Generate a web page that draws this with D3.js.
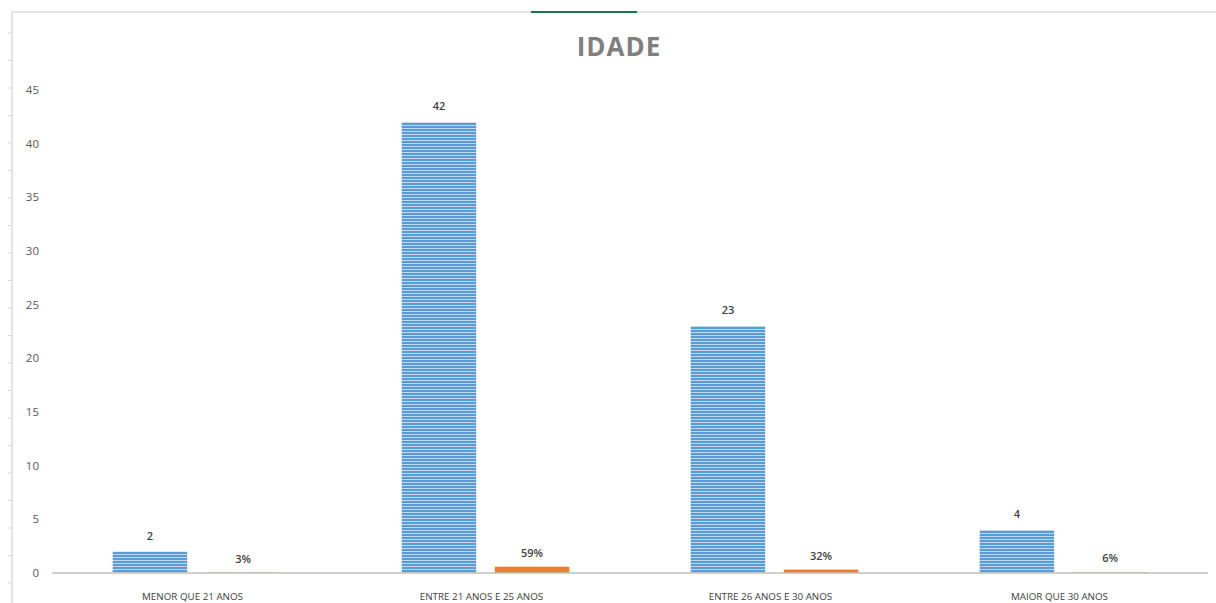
<!DOCTYPE html>
<html>
<head>
<meta charset="utf-8">
<script src="https://cdn.jsdelivr.net/npm/d3@7.9.0/dist/d3.min.js"></script>
<style>
  body { margin: 0; background: #fff; }
  svg { display: block; font-family: "Open Sans", sans-serif; }
</style>
</head>
<body>
<svg id="chart" width="1216" height="603"></svg>
<script>
const categories = ['MENOR QUE 21 ANOS', 'ENTRE 21 ANOS E 25 ANOS', 'ENTRE 26 ANOS E 30 ANOS', 'MAIOR QUE 30 ANOS'];
const counts = [2, 42, 23, 4];
const shares = [0.03, 0.59, 0.32, 0.06];
const yTicks = [0, 5, 10, 15, 20, 25, 30, 35, 40, 45];

const svg = d3.select('#chart');

// sheet frame lines
svg.append('line').attr('x1', 12).attr('x2', 1216).attr('y1', 12).attr('y2', 12)
  .attr('stroke', '#c8c8c8').attr('stroke-width', 1);
svg.append('line').attr('x1', 531).attr('x2', 637).attr('y1', 12).attr('y2', 12)
  .attr('stroke', '#1e7145').attr('stroke-width', 2);
svg.append('line').attr('x1', 12).attr('x2', 12).attr('y1', 12).attr('y2', 603)
  .attr('stroke', '#c8c8c8').attr('stroke-width', 1);
d3.range(33, 603, 27.5).forEach(y => {
  svg.append('line').attr('x1', 8).attr('x2', 12).attr('y1', y).attr('y2', y)
    .attr('stroke', '#d8d8d8');
});

// striped fill for the blue bars
const pat = svg.append('defs').append('pattern')
  .attr('id', 'stripes').attr('patternUnits', 'userSpaceOnUse')
  .attr('width', 8).attr('height', 3);
pat.append('rect').attr('width', 8).attr('height', 3).attr('fill', '#5b9bd5');
pat.append('rect').attr('y', 2).attr('width', 8).attr('height', 1).attr('fill', '#bcd8f2');

const x0 = d3.scaleBand().domain(categories).range([52, 1208])
  .paddingInner(0.42).paddingOuter(0.21);
const x1 = d3.scaleBand().domain(['count', 'share']).range([0, x0.bandwidth()])
  .paddingInner(0.2);
const y = d3.scaleLinear().domain([0, 45]).range([573, 90]);

// title
svg.append('text').attr('x', 619).attr('y', 56).attr('text-anchor', 'middle')
  .attr('font-size', 26).attr('font-weight', 'bold').attr('letter-spacing', 1)
  .attr('fill', '#7f7f7f').text('IDADE');

// y axis labels
svg.append('g').selectAll('text').data(yTicks).join('text')
  .attr('x', 39).attr('y', d => y(d)).attr('dy', '0.35em')
  .attr('text-anchor', 'end').attr('font-size', 11.5).attr('fill', '#595959')
  .text(d => d);

const groups = svg.append('g').selectAll('g').data(categories).join('g')
  .attr('transform', d => `translate(${x0(d)},0)`);

groups.append('rect')
  .attr('x', x1('count')).attr('width', x1.bandwidth())
  .attr('y', (d, i) => y(counts[i])).attr('height', (d, i) => y(0) - y(counts[i]))
  .attr('fill', 'url(#stripes)');

groups.append('rect')
  .attr('x', x1('share')).attr('width', x1.bandwidth())
  .attr('y', (d, i) => y(shares[i])).attr('height', (d, i) => y(0) - y(shares[i]))
  .attr('fill', '#ed7d31');

groups.append('text')
  .attr('x', x1('count') + x1.bandwidth() / 2)
  .attr('y', (d, i) => y(counts[i]) - 12)
  .attr('text-anchor', 'middle').attr('font-size', 11).attr('font-weight', 600)
  .attr('fill', '#404040')
  .text((d, i) => counts[i]);

groups.append('text')
  .attr('x', x1('share') + x1.bandwidth() / 2)
  .attr('y', (d, i) => y(shares[i]) - 10)
  .attr('text-anchor', 'middle').attr('font-size', 11).attr('font-weight', 600)
  .attr('fill', '#404040')
  .text((d, i) => Math.round(shares[i] * 100) + '%');

// baseline and category axis
svg.append('line').attr('x1', 52).attr('x2', 1208).attr('y1', y(0)).attr('y2', y(0))
  .attr('stroke', '#bfbfbf').attr('stroke-width', 1.5);

groups.append('text')
  .attr('x', x0.bandwidth() / 2 - 4).attr('y', 600)
  .attr('text-anchor', 'middle').attr('font-size', 9.8).attr('fill', '#404040')
  .text(d => d);
</script>
</body>
</html>
